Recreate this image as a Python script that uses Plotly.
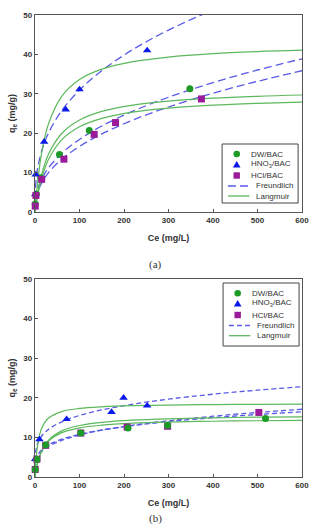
import plotly.graph_objects as go

# ---------------- data ----------------
# (a) measured points
a_dw_ce = [0.5, 3, 13, 55, 122, 348]
a_dw_q = [2.0, 4.5, 8.7, 14.6, 20.7, 31.3]
a_hno3_ce = [0.5, 1.5, 20.5, 69, 100, 252]
a_hno3_q = [4.5, 9.5, 17.8, 26.0, 31.1, 41.0]
a_hcl_ce = [0.5, 2, 15, 65, 133, 181, 374]
a_hcl_q = [1.5, 4.2, 8.3, 13.4, 19.7, 22.7, 28.7]

# (b) measured points
b_dw_ce = [0.5, 4.4, 24, 103, 209, 298, 518]
b_dw_q = [1.9, 4.5, 8.1, 11.1, 12.4, 13.0, 14.8]
b_hno3_ce = [0.5, 10, 71, 172, 199, 252]
b_hno3_q = [4.5, 9.5, 14.6, 16.4, 20.0, 18.0]
b_hcl_ce = [0.5, 4.4, 24, 103, 207, 298, 503]
b_hcl_q = [1.9, 4.5, 8.0, 11.1, 12.6, 12.8, 16.3]

# model curves, read at these Ce values
ce_grid = [0, 1, 3, 7, 15, 30, 60, 100, 150, 220, 300, 400, 500, 600]
a_fr_hno3 = [0, 5.79, 8.64, 11.76, 15.52, 19.97, 25.70, 30.95, 35.87, 41.24, 46.17, 51.26, 55.6, 59.4]
a_fr_dw = [0, 2.70, 4.27, 6.08, 8.35, 11.15, 14.89, 18.42, 21.82, 25.59, 29.13, 32.84, 36.04, 38.89]
a_fr_hcl = [0, 2.32, 3.71, 5.34, 7.39, 9.95, 13.38, 16.65, 19.81, 23.34, 26.65, 30.14, 33.16, 35.86]
a_la_hno3 = [0, 1.49, 4.17, 8.61, 15.02, 22.26, 29.33, 33.61, 36.25, 38.15, 39.33, 40.19, 40.72, 41.08]
a_la_dw = [0, 0.88, 2.51, 5.29, 9.51, 14.59, 19.93, 23.34, 25.52, 27.14, 28.16, 28.90, 29.37, 29.69]
a_la_hcl = [0, 0.78, 2.22, 4.71, 8.54, 13.26, 18.32, 21.62, 23.76, 25.36, 26.37, 27.12, 27.59, 27.91]

b_fr_hno3 = [0, 5.8, 7.34, 8.80, 10.35, 12.01, 13.93, 15.54, 16.95, 18.39, 19.66, 20.91, 21.93, 22.80]
b_fr_dw = [0, 3.1, 4.16, 5.21, 6.39, 7.69, 9.25, 10.60, 11.81, 13.08, 14.21, 15.35, 16.29, 17.11]
b_fr_hcl = [0, 3.63, 4.71, 5.75, 6.89, 8.11, 9.56, 10.79, 11.87, 13.00, 13.99, 14.97, 15.79, 16.48]
b_la_hno3 = [0, 2.14, 5.23, 8.88, 12.32, 14.84, 16.52, 17.31, 17.73, 18.01, 18.17, 18.29, 18.36, 18.40]
b_la_dw = [0, 0.72, 1.97, 3.93, 6.55, 9.25, 11.65, 13.00, 13.80, 14.36, 14.70, 14.94, 15.10, 15.20]
b_la_hcl = [0, 0.74, 2.01, 3.97, 6.51, 9.03, 11.21, 12.40, 13.09, 13.58, 13.87, 14.08, 14.21, 14.30]

x_ticks = [0, 100, 200, 300, 400, 500, 600]
y_ticks = [0, 10, 20, 30, 40, 50]
legend_names = ["DW/BAC", "HNO<sub>3</sub>/BAC", "HCl/BAC", "Freundlich", "Langmuir"]

# ---------------- styles ----------------
C_DW = "#1c9a26"
C_HNO3 = "#0a18e8"
C_HCL = "#9a1a9a"
C_FR = "#5a5ae8"
C_LA = "#5cb85c"
FONT = "Liberation Sans, Arial"

fig = go.Figure()


def add_panel(xa, ya, fr_list, la_list, pts, dash):
    for ys in fr_list:
        fig.add_trace(go.Scatter(
            x=ce_grid, y=ys, mode="lines", line=dict(color=C_FR, width=1.3, dash=dash, shape="spline"),
            name="Freundlich", showlegend=False, xaxis=xa, yaxis=ya))
    for ys in la_list:
        fig.add_trace(go.Scatter(
            x=ce_grid, y=ys, mode="lines", line=dict(color=C_LA, width=1.2, shape="spline"),
            name="Langmuir", showlegend=False, xaxis=xa, yaxis=ya))
    for (name, cx, qy, col, sym) in pts:
        fig.add_trace(go.Scatter(
            x=cx, y=qy, mode="markers", name=name, cliponaxis=False, showlegend=False,
            marker=dict(color=col, symbol=sym, size=7 if sym != "triangle-up" else 7.5, line=dict(width=0)),
            xaxis=xa, yaxis=ya))


add_panel("x", "y",
          [a_fr_hno3, a_fr_dw, a_fr_hcl], [a_la_hno3, a_la_dw, a_la_hcl],
          [("DW/BAC", a_dw_ce, a_dw_q, C_DW, "circle"),
           ("HNO<sub>3</sub>/BAC", a_hno3_ce, a_hno3_q, C_HNO3, "triangle-up"),
           ("HCl/BAC", a_hcl_ce, a_hcl_q, C_HCL, "square")], "8px,4px")

add_panel("x2", "y2",
          [b_fr_hno3, b_fr_dw, b_fr_hcl], [b_la_hno3, b_la_dw, b_la_hcl],
          [("HNO<sub>3</sub>/BAC", b_hno3_ce, b_hno3_q, C_HNO3, "triangle-up"),
           ("HCl/BAC", b_hcl_ce, b_hcl_q, C_HCL, "square"),
           ("DW/BAC", b_dw_ce, b_dw_q, C_DW, "circle")], "5px,3px")

W, H = 318, 530
ML, MR, MT, MB = 35, 9, 15, 53
PW, PH = W - ML - MR, H - MT - MB
Y0 = H - MB  # pixel row of the bottom plot's baseline


def px(xp):
    return (xp - ML) / PW


def py(yp):
    return (Y0 - yp) / PH


a_bottom = py(212)
b_top = py(279)

axis_common = dict(showline=True, mirror=True, linecolor="#555555", linewidth=1.4,
                   ticks="inside", ticklen=3, tickcolor="#555555", tickwidth=1,
                   showgrid=False, zeroline=False,
                   tickfont=dict(family=FONT, size=8, color="#333333", weight="bold"))

xa = dict(axis_common, range=[0, 600], tickvals=x_ticks,
          title=dict(text="<b>Ce (mg/L)</b>", standoff=10,
                     font=dict(family=FONT, size=9, color="#333333")))
ya = dict(axis_common, range=[0, 50], tickvals=y_ticks,
          title=dict(text="<b>q<sub>e</sub> (mg/g)</b>", standoff=6,
                     font=dict(family=FONT, size=9, color="#333333")))

# ---------------- compact legend boxes (drawn as layout shapes/text) ----------------
shapes, annots = [], []


def legend_box(box, rows, dash):
    x0, y0, x1, y1 = box
    shapes.append(dict(type="rect", xref="paper", yref="paper", x0=px(x0), x1=px(x1),
                       y0=py(y1), y1=py(y0), line=dict(color="#444444", width=1),
                       fillcolor="white", layer="above"))
    mx = x0 + 15
    styles = [("circle", C_DW), ("tri", C_HNO3), ("square", C_HCL)]
    for i, (kind, col) in enumerate(styles):
        yc = py(rows[i])
        common = dict(xref="paper", yref="paper", xsizemode="pixel", ysizemode="pixel",
                      xanchor=px(mx), yanchor=yc, fillcolor=col, line=dict(width=0), layer="above")
        if kind == "circle":
            shapes.append(dict(common, type="circle", x0=-3.3, x1=3.3, y0=-3.3, y1=3.3))
        elif kind == "square":
            shapes.append(dict(common, type="rect", x0=-3.2, x1=3.2, y0=-3.2, y1=3.2))
        else:
            shapes.append(dict(common, type="path", path="M-3.8,-3 L3.8,-3 L0,3.6 Z"))
        annots.append(dict(text=legend_names[i], xref="paper", yref="paper", x=px(x0 + 28), y=yc,
                           xanchor="left", yanchor="middle", showarrow=False,
                           font=dict(family=FONT, size=8, color="#333333")))
    for j, (col, dsh) in enumerate([(C_FR, dash), (C_LA, "solid")]):
        yc = py(rows[3 + j])
        shapes.append(dict(type="line", xref="paper", yref="paper", x0=px(x0 + 6), x1=px(x0 + 28),
                           y0=yc, y1=yc, line=dict(color=col, width=1.3, dash=dsh), layer="above"))
        annots.append(dict(text=legend_names[3 + j], xref="paper", yref="paper", x=px(x0 + 33), y=yc,
                           xanchor="left", yanchor="middle", showarrow=False,
                           font=dict(family=FONT, size=8, color="#333333")))


legend_box((227, 144, 305, 203), [154, 164.5, 175.5, 186, 196], "8px,4px")
legend_box((228, 283, 306, 346), [293.3, 303.5, 315, 325.5, 335.7], "5px,3px")

annots += [
    dict(text="(a)", xref="paper", yref="paper", x=px(159), y=py(264),
         showarrow=False, font=dict(family="Liberation Serif, DejaVu Serif", size=11, color="#333333")),
    dict(text="(b)", xref="paper", yref="paper", x=px(159), y=py(527),
         showarrow=False, font=dict(family="Liberation Serif, DejaVu Serif", size=11, color="#333333")),
]

fig.update_layout(
    width=W, height=H, margin=dict(l=ML, r=MR, t=MT, b=MB),
    paper_bgcolor="white", plot_bgcolor="white", showlegend=False,
    xaxis=dict(xa, domain=[0, 1], anchor="y"),
    yaxis=dict(ya, domain=[a_bottom, 1], anchor="x"),
    xaxis2=dict(xa, domain=[0, 1], anchor="y2"),
    yaxis2=dict(ya, domain=[0, b_top], anchor="x2"),
    shapes=shapes,
    annotations=annots,
)

fig.write_html("out.html")
